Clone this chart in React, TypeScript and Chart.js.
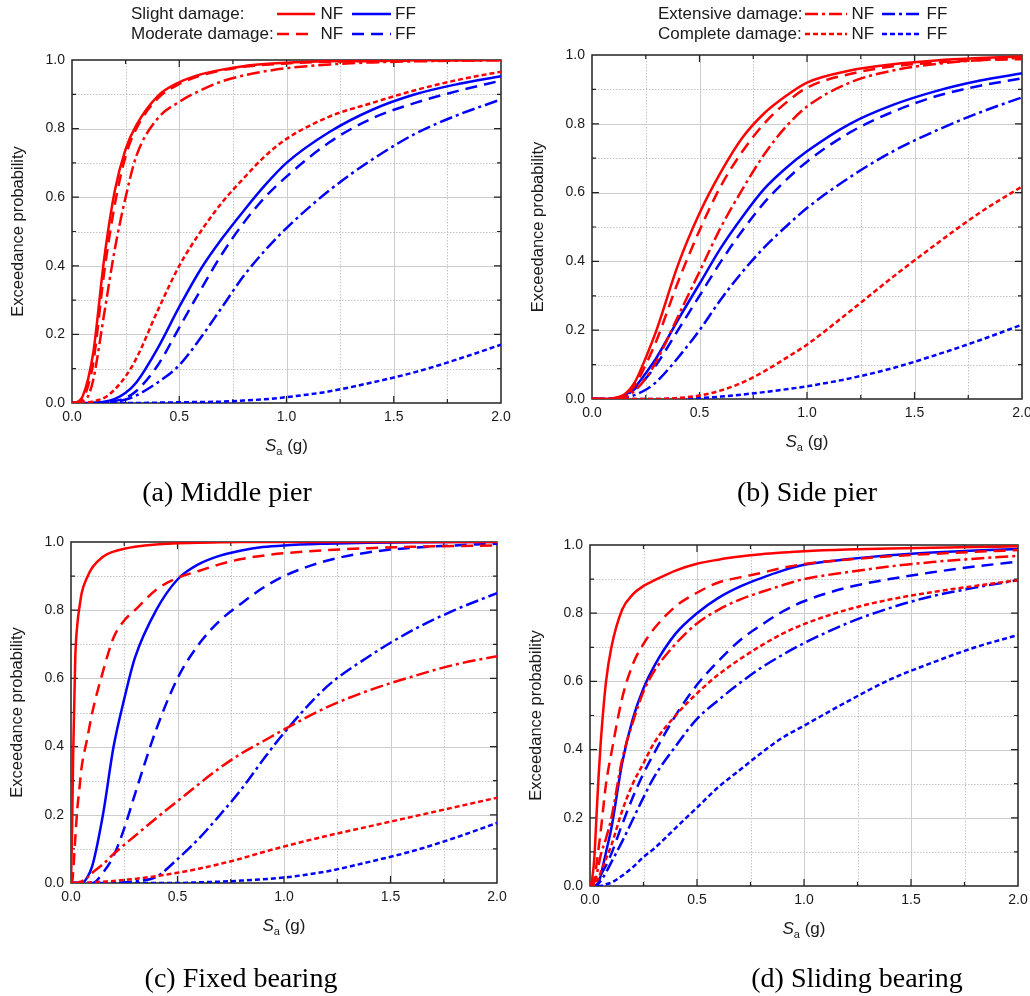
import React, { useEffect, useRef } from "react";
import { Chart, registerables } from "chart.js";

Chart.register(...registerables);

const FONT = '"Liberation Sans", Arial, Helvetica, sans-serif';
const SERIF = '"Liberation Serif", "Times New Roman", Times, serif';

// Spectral acceleration Sa (g) sample points shared by all curves
const sa = [0, 0.005, 0.01, 0.02, 0.03, 0.04, 0.05, 0.075, 0.1, 0.15, 0.2, 0.25, 0.3, 0.4, 0.5, 0.6, 0.7, 0.8, 0.9, 1.0, 1.2, 1.4, 1.6, 1.8, 2.0];

const xTicks = [0, 0.5, 1.0, 1.5, 2.0];
const yTicks = [0, 0.2, 0.4, 0.6, 0.8, 1.0];

// (a) Middle pier
const midSlightNF = [0, 0, 0, 0.002, 0.005, 0.01, 0.02, 0.07, 0.15, 0.42, 0.62, 0.74, 0.81, 0.895, 0.935, 0.958, 0.972, 0.982, 0.988, 0.992, 0.996, 0.998, 0.999, 1, 1];
const midModerateNF = [0, 0, 0, 0.001, 0.003, 0.007, 0.013, 0.05, 0.12, 0.38, 0.58, 0.72, 0.8, 0.888, 0.93, 0.955, 0.97, 0.98, 0.986, 0.99, 0.995, 0.997, 0.998, 0.999, 1];
const midExtensiveNF = [0, 0, 0, 0, 0.001, 0.002, 0.005, 0.02, 0.07, 0.26, 0.45, 0.6, 0.72, 0.83, 0.878, 0.912, 0.938, 0.955, 0.967, 0.976, 0.987, 0.993, 0.996, 0.998, 0.999];
const midCompleteNF = [0, 0, 0, 0, 0, 0, 0, 0.002, 0.005, 0.015, 0.04, 0.078, 0.13, 0.27, 0.4, 0.5, 0.585, 0.655, 0.72, 0.77, 0.835, 0.875, 0.912, 0.942, 0.966];
const midSlightFF = [0, 0, 0, 0, 0, 0, 0, 0, 0.001, 0.004, 0.012, 0.03, 0.06, 0.16, 0.28, 0.39, 0.48, 0.56, 0.635, 0.7, 0.79, 0.855, 0.9, 0.93, 0.953];
const midModerateFF = [0, 0, 0, 0, 0, 0, 0, 0, 0, 0.002, 0.006, 0.015, 0.035, 0.11, 0.22, 0.33, 0.435, 0.525, 0.6, 0.66, 0.76, 0.83, 0.875, 0.91, 0.94];
const midExtensiveFF = [0, 0, 0, 0, 0, 0, 0, 0, 0, 0.001, 0.003, 0.01, 0.022, 0.06, 0.11, 0.19, 0.28, 0.37, 0.445, 0.51, 0.62, 0.71, 0.785, 0.84, 0.885];
const midCompleteFF = [0, 0, 0, 0, 0, 0, 0, 0, 0, 0, 0, 0, 0, 0.001, 0.002, 0.003, 0.004, 0.007, 0.011, 0.017, 0.034, 0.06, 0.09, 0.128, 0.17];

// (b) Side pier
const sideSlightNF = [0, 0, 0, 0, 0, 0, 0, 0, 0.002, 0.013, 0.05, 0.12, 0.2, 0.39, 0.54, 0.66, 0.76, 0.83, 0.88, 0.92, 0.955, 0.973, 0.984, 0.991, 0.996];
const sideModerateNF = [0, 0, 0, 0, 0, 0, 0, 0, 0.001, 0.01, 0.04, 0.1, 0.17, 0.34, 0.49, 0.62, 0.72, 0.8, 0.86, 0.905, 0.945, 0.967, 0.978, 0.985, 0.988];
const sideExtensiveNF = [0, 0, 0, 0, 0, 0, 0, 0, 0, 0.005, 0.025, 0.06, 0.11, 0.24, 0.37, 0.5, 0.61, 0.71, 0.79, 0.85, 0.92, 0.955, 0.974, 0.985, 0.992];
const sideCompleteNF = [0, 0, 0, 0, 0, 0, 0, 0, 0, 0, 0, 0, 0, 0.003, 0.01, 0.025, 0.048, 0.08, 0.118, 0.158, 0.255, 0.355, 0.45, 0.54, 0.618];
const sideSlightFF = [0, 0, 0, 0, 0, 0, 0, 0, 0.002, 0.01, 0.035, 0.075, 0.12, 0.23, 0.335, 0.44, 0.53, 0.61, 0.67, 0.72, 0.8, 0.855, 0.895, 0.925, 0.947];
const sideModerateFF = [0, 0, 0, 0, 0, 0, 0, 0, 0.001, 0.008, 0.03, 0.06, 0.1, 0.2, 0.3, 0.4, 0.49, 0.57, 0.635, 0.69, 0.775, 0.835, 0.88, 0.91, 0.932];
const sideExtensiveFF = [0, 0, 0, 0, 0, 0, 0, 0, 0, 0.003, 0.012, 0.027, 0.05, 0.12, 0.2, 0.29, 0.37, 0.44, 0.5, 0.555, 0.645, 0.72, 0.78, 0.832, 0.877];
const sideCompleteFF = [0, 0, 0, 0, 0, 0, 0, 0, 0, 0, 0, 0, 0, 0.001, 0.003, 0.007, 0.013, 0.02, 0.028, 0.037, 0.06, 0.09, 0.128, 0.17, 0.216];

// (c) Fixed bearing
const fixSlightNF = [0, 0.15, 0.37, 0.66, 0.76, 0.81, 0.85, 0.895, 0.925, 0.957, 0.972, 0.98, 0.986, 0.993, 0.996, 0.998, 0.999, 1, 1, 1, 1, 1, 1, 1, 1];
const fixModerateNF = [0, 0, 0.03, 0.13, 0.22, 0.28, 0.34, 0.42, 0.5, 0.62, 0.72, 0.77, 0.8, 0.86, 0.895, 0.915, 0.935, 0.95, 0.96, 0.967, 0.976, 0.982, 0.986, 0.988, 0.99];
const fixExtensiveNF = [0, 0, 0, 0, 0.001, 0.003, 0.005, 0.015, 0.03, 0.055, 0.085, 0.112, 0.138, 0.19, 0.24, 0.29, 0.338, 0.38, 0.415, 0.45, 0.515, 0.565, 0.605, 0.64, 0.665];
const fixCompleteNF = [0, 0, 0, 0, 0, 0, 0.001, 0.001, 0.002, 0.004, 0.006, 0.009, 0.012, 0.02, 0.03, 0.042, 0.056, 0.072, 0.09, 0.107, 0.138, 0.166, 0.194, 0.222, 0.25];
const fixSlightFF = [0, 0, 0, 0, 0, 0, 0, 0.015, 0.05, 0.2, 0.4, 0.54, 0.66, 0.8, 0.89, 0.935, 0.96, 0.975, 0.985, 0.99, 0.995, 0.998, 0.999, 1, 1];
const fixModerateFF = [0, 0, 0, 0, 0, 0, 0, 0, 0, 0.03, 0.08, 0.16, 0.26, 0.45, 0.6, 0.7, 0.77, 0.82, 0.865, 0.9, 0.945, 0.97, 0.983, 0.99, 0.995];
const fixExtensiveFF = [0, 0, 0, 0, 0, 0, 0, 0, 0, 0, 0, 0.002, 0.005, 0.018, 0.07, 0.13, 0.2, 0.275, 0.36, 0.44, 0.575, 0.665, 0.74, 0.8, 0.85];
const fixCompleteFF = [0, 0, 0, 0, 0, 0, 0, 0, 0, 0, 0, 0, 0, 0, 0, 0.002, 0.004, 0.007, 0.011, 0.016, 0.034, 0.062, 0.093, 0.132, 0.176];

// (d) Sliding bearing
const slideSlightNF = [0, 0.005, 0.02, 0.08, 0.2, 0.32, 0.42, 0.6, 0.7, 0.81, 0.855, 0.88, 0.896, 0.925, 0.945, 0.957, 0.966, 0.973, 0.978, 0.982, 0.987, 0.99, 0.992, 0.994, 0.996];
const slideModerateNF = [0, 0, 0.005, 0.02, 0.06, 0.11, 0.16, 0.3, 0.39, 0.55, 0.65, 0.71, 0.755, 0.82, 0.86, 0.89, 0.905, 0.918, 0.933, 0.944, 0.957, 0.967, 0.974, 0.98, 0.985];
const slideExtensiveNF = [0, 0, 0.002, 0.01, 0.03, 0.06, 0.09, 0.14, 0.2, 0.37, 0.48, 0.57, 0.63, 0.71, 0.77, 0.81, 0.84, 0.862, 0.882, 0.9, 0.92, 0.937, 0.95, 0.96, 0.968];
const slideCompleteNF = [0, 0, 0, 0.003, 0.01, 0.025, 0.04, 0.08, 0.12, 0.22, 0.3, 0.36, 0.42, 0.5, 0.565, 0.62, 0.665, 0.705, 0.74, 0.768, 0.81, 0.84, 0.862, 0.88, 0.897];
const slideSlightFF = [0, 0, 0, 0, 0.002, 0.01, 0.03, 0.1, 0.17, 0.36, 0.49, 0.58, 0.645, 0.74, 0.8, 0.845, 0.878, 0.903, 0.925, 0.942, 0.958, 0.97, 0.978, 0.984, 0.988];
const slideModerateFF = [0, 0, 0, 0, 0, 0.01, 0.03, 0.06, 0.095, 0.18, 0.26, 0.33, 0.39, 0.5, 0.59, 0.66, 0.72, 0.765, 0.805, 0.835, 0.875, 0.9, 0.92, 0.937, 0.951];
const slideExtensiveFF = [0, 0, 0, 0, 0.003, 0.008, 0.015, 0.04, 0.07, 0.13, 0.195, 0.26, 0.32, 0.41, 0.49, 0.545, 0.595, 0.64, 0.678, 0.712, 0.77, 0.815, 0.85, 0.875, 0.897];
const slideCompleteFF = [0, 0, 0, 0, 0, 0, 0, 0.005, 0.01, 0.03, 0.055, 0.085, 0.11, 0.17, 0.23, 0.29, 0.34, 0.39, 0.435, 0.47, 0.54, 0.605, 0.655, 0.7, 0.736];

const stateNames = ["Slight damage:", "Moderate damage:", "Extensive damage:", "Complete damage:"];
const DASHES: number[][] = [[], [12, 7], [13, 4, 3, 4], [5, 3]];
const RED = "#ff0000";
const BLUE = "#0000ff";

type Series = { data: number[]; ff: boolean; state: number };

const panelA: Series[] = [
  { data: midSlightNF, ff: false, state: 0 },
  { data: midModerateNF, ff: false, state: 1 },
  { data: midExtensiveNF, ff: false, state: 2 },
  { data: midCompleteNF, ff: false, state: 3 },
  { data: midSlightFF, ff: true, state: 0 },
  { data: midModerateFF, ff: true, state: 1 },
  { data: midExtensiveFF, ff: true, state: 2 },
  { data: midCompleteFF, ff: true, state: 3 },
];
const panelB: Series[] = [
  { data: sideSlightNF, ff: false, state: 0 },
  { data: sideModerateNF, ff: false, state: 1 },
  { data: sideExtensiveNF, ff: false, state: 2 },
  { data: sideCompleteNF, ff: false, state: 3 },
  { data: sideSlightFF, ff: true, state: 0 },
  { data: sideModerateFF, ff: true, state: 1 },
  { data: sideExtensiveFF, ff: true, state: 2 },
  { data: sideCompleteFF, ff: true, state: 3 },
];
const panelC: Series[] = [
  { data: fixSlightNF, ff: false, state: 0 },
  { data: fixModerateNF, ff: false, state: 1 },
  { data: fixExtensiveNF, ff: false, state: 2 },
  { data: fixCompleteNF, ff: false, state: 3 },
  { data: fixSlightFF, ff: true, state: 0 },
  { data: fixModerateFF, ff: true, state: 1 },
  { data: fixExtensiveFF, ff: true, state: 2 },
  { data: fixCompleteFF, ff: true, state: 3 },
];
const panelD: Series[] = [
  { data: slideSlightNF, ff: false, state: 0 },
  { data: slideModerateNF, ff: false, state: 1 },
  { data: slideExtensiveNF, ff: false, state: 2 },
  { data: slideCompleteNF, ff: false, state: 3 },
  { data: slideSlightFF, ff: true, state: 0 },
  { data: slideModerateFF, ff: true, state: 1 },
  { data: slideExtensiveFF, ff: true, state: 2 },
  { data: slideCompleteFF, ff: true, state: 3 },
];

type Box = { x: number; y: number; w: number; h: number };
type Area = { l: number; r: number; t: number; b: number };
type LegendSpec = {
  states: number[];
  textX: number;
  nfLine: [number, number];
  nfTextX: number;
  ffLine: [number, number];
  ffTextX: number;
  rowY: number[];
};

function Panel(props: { box: Box; area: Area; series: Series[]; legend?: LegendSpec }) {
  const ref = useRef<HTMLCanvasElement | null>(null);
  const { box, area, series, legend } = props;

  useEffect(() => {
    const cv = ref.current;
    if (!cv) return;
    const yW = area.l - box.x;
    const padR = box.x + box.w - area.r;
    const padT = area.t - box.y;
    const xH = box.y + box.h - area.b;

    const decor = {
      id: "decor",
      beforeDatasetsDraw(chart: any) {
        const { ctx, chartArea: a, scales } = chart;
        const xs = scales.x;
        const ys = scales.y;
        ctx.save();
        ctx.lineWidth = 1;
        for (let i = 1; i < 8; i++) {
          const major = i % 2 === 0;
          const px = Math.round(xs.getPixelForValue(i * 0.25)) + 0.5;
          ctx.strokeStyle = major ? "#cdcdcd" : "#c4c4c4";
          ctx.setLineDash(major ? [] : [1.5, 1.5]);
          ctx.beginPath();
          ctx.moveTo(px, a.top);
          ctx.lineTo(px, a.bottom);
          ctx.stroke();
        }
        for (let i = 1; i < 10; i++) {
          const major = i % 2 === 0;
          const py = Math.round(ys.getPixelForValue(i * 0.1)) + 0.5;
          ctx.strokeStyle = major ? "#cdcdcd" : "#c4c4c4";
          ctx.setLineDash(major ? [] : [1.5, 1.5]);
          ctx.beginPath();
          ctx.moveTo(a.left, py);
          ctx.lineTo(a.right, py);
          ctx.stroke();
        }
        ctx.setLineDash([]);
        ctx.strokeStyle = "#222";
        ctx.lineWidth = 1.2;
        for (let i = 1; i < 8; i++) {
          const len = i % 2 === 0 ? 7 : 4;
          const px = xs.getPixelForValue(i * 0.25);
          ctx.beginPath();
          ctx.moveTo(px, a.bottom);
          ctx.lineTo(px, a.bottom - len);
          ctx.moveTo(px, a.top);
          ctx.lineTo(px, a.top + len);
          ctx.stroke();
        }
        for (let i = 1; i < 10; i++) {
          const len = i % 2 === 0 ? 7 : 4;
          const py = ys.getPixelForValue(i * 0.1);
          ctx.beginPath();
          ctx.moveTo(a.left, py);
          ctx.lineTo(a.left + len, py);
          ctx.moveTo(a.right, py);
          ctx.lineTo(a.right - len, py);
          ctx.stroke();
        }
        ctx.lineWidth = 1.5;
        ctx.strokeRect(a.left, a.top, a.right - a.left, a.bottom - a.top);
        ctx.restore();
      },
      afterDraw(chart: any) {
        const { ctx, chartArea: a } = chart;
        ctx.save();
        ctx.fillStyle = "#1a1a1a";
        // x-axis title: italic S with subscript a, then (g)
        const cx = (a.left + a.right) / 2;
        const base = a.bottom + 48;
        ctx.textBaseline = "alphabetic";
        ctx.textAlign = "left";
        ctx.font = `italic 17px ${FONT}`;
        const wS = ctx.measureText("S").width;
        ctx.font = `11px ${FONT}`;
        const wA = ctx.measureText("a").width;
        ctx.font = `17px ${FONT}`;
        const wG = ctx.measureText(" (g)").width;
        let x0 = cx - (wS + wA + wG) / 2;
        ctx.font = `italic 17px ${FONT}`;
        ctx.fillText("S", x0, base);
        x0 += wS;
        ctx.font = `11px ${FONT}`;
        ctx.fillText("a", x0, base + 4);
        x0 += wA;
        ctx.font = `17px ${FONT}`;
        ctx.fillText(" (g)", x0, base);
        // y-axis title
        ctx.save();
        ctx.translate(a.left - 53.5, (a.top + a.bottom) / 2);
        ctx.rotate(-Math.PI / 2);
        ctx.textAlign = "center";
        ctx.textBaseline = "middle";
        ctx.font = `16.5px ${FONT}`;
        ctx.fillText("Exceedance probability", 0, 0);
        ctx.restore();

        if (legend) {
          const ox = box.x;
          const oy = box.y;
          ctx.font = `17px ${FONT}`;
          ctx.textBaseline = "middle";
          ctx.textAlign = "left";
          legend.states.forEach((st, k) => {
            const y = legend.rowY[k] - oy;
            ctx.fillStyle = "#1a1a1a";
            ctx.fillText(stateNames[st], legend.textX - ox, y);
            ctx.fillText("NF", legend.nfTextX - ox, y);
            ctx.fillText("FF", legend.ffTextX - ox, y);
            ctx.lineWidth = 2.5;
            ctx.setLineDash(DASHES[st]);
            ctx.strokeStyle = RED;
            ctx.beginPath();
            ctx.moveTo(legend.nfLine[0] - ox, y);
            ctx.lineTo(legend.nfLine[1] - ox, y);
            ctx.stroke();
            ctx.strokeStyle = BLUE;
            ctx.beginPath();
            ctx.moveTo(legend.ffLine[0] - ox, y);
            ctx.lineTo(legend.ffLine[1] - ox, y);
            ctx.stroke();
            ctx.setLineDash([]);
          });
        }
        ctx.restore();
      },
    };

    const chart = new Chart(cv, {
      type: "line",
      data: {
        datasets: series.map((s) => ({
          label: (s.ff ? "FF " : "NF ") + stateNames[s.state],
          data: sa.map((x, i) => ({ x, y: s.data[i] })),
          borderColor: s.ff ? BLUE : RED,
          backgroundColor: s.ff ? BLUE : RED,
          borderDash: DASHES[s.state],
          borderWidth: 2.5,
          pointRadius: 0,
          fill: false,
          cubicInterpolationMode: "monotone" as const,
        })),
      },
      options: {
        animation: false,
        responsive: false,
        devicePixelRatio: 1,
        layout: { padding: { left: 0, right: padR, top: padT, bottom: 0 } },
        plugins: { legend: { display: false }, tooltip: { enabled: false } },
        scales: {
          x: {
            type: "linear",
            min: 0,
            max: 2,
            grid: { display: false, drawTicks: false },
            border: { display: false },
            afterBuildTicks: (s: any) => {
              s.ticks = xTicks.map((v) => ({ value: v }));
            },
            ticks: {
              padding: 6,
              color: "#1a1a1a",
              font: { size: 14, family: FONT },
              maxRotation: 0,
              autoSkip: false,
              callback: (v: any) => Number(v).toFixed(1),
            },
            afterFit: (s: any) => {
              s.height = xH;
              s.paddingLeft = 0;
              s.paddingRight = 0;
            },
          },
          y: {
            type: "linear",
            min: 0,
            max: 1,
            grid: { display: false, drawTicks: false },
            border: { display: false },
            afterBuildTicks: (s: any) => {
              s.ticks = yTicks.map((v) => ({ value: v }));
            },
            ticks: {
              padding: 7,
              color: "#1a1a1a",
              font: { size: 14, family: FONT },
              autoSkip: false,
              callback: (v: any) => Number(v).toFixed(1),
            },
            afterFit: (s: any) => {
              s.width = yW;
              s.paddingTop = 0;
              s.paddingBottom = 0;
            },
          },
        },
      },
      plugins: [decor],
    } as any);
    return () => chart.destroy();
  }, []);

  return (
    <canvas
      ref={ref}
      width={box.w}
      height={box.h}
      style={{ position: "absolute", left: box.x, top: box.y, width: box.w, height: box.h }}
    />
  );
}

const legendLeft: LegendSpec = {
  states: [0, 1],
  textX: 131,
  nfLine: [277, 315],
  nfTextX: 320.5,
  ffLine: [352, 391],
  ffTextX: 395,
  rowY: [14, 34],
};
const legendRight: LegendSpec = {
  states: [2, 3],
  textX: 658,
  nfLine: [805, 847],
  nfTextX: 851.5,
  ffLine: [882, 922],
  ffTextX: 926.5,
  rowY: [14, 34],
};

const captions = [
  { text: "(a) Middle pier", cx: 227, base: 501 },
  { text: "(b) Side pier", cx: 807, base: 501 },
  { text: "(c) Fixed bearing", cx: 241, base: 987 },
  { text: "(d) Sliding bearing", cx: 857, base: 987 },
];

export default function App() {
  return (
    <div
      style={{
        position: "absolute",
        left: 0,
        top: 0,
        width: 1030,
        height: 996,
        overflow: "hidden",
        background: "#ffffff",
      }}
    >
      <Panel box={{ x: 0, y: 0, w: 515, h: 470 }} area={{ l: 72, r: 501, t: 60, b: 403 }} series={panelA} legend={legendLeft} />
      <Panel box={{ x: 520, y: 0, w: 520, h: 470 }} area={{ l: 592, r: 1022, t: 55, b: 399 }} series={panelB} legend={legendRight} />
      <Panel box={{ x: 0, y: 490, w: 515, h: 480 }} area={{ l: 71, r: 497, t: 542, b: 883 }} series={panelC} />
      <Panel box={{ x: 520, y: 490, w: 520, h: 480 }} area={{ l: 590, r: 1018, t: 545, b: 886 }} series={panelD} />
      {captions.map((c) => (
        <div
          key={c.text}
          style={{
            position: "absolute",
            left: c.cx,
            top: c.base - 23.4,
            transform: "translateX(-50%)",
            font: `28px ${SERIF}`,
            lineHeight: "28px",
            whiteSpace: "nowrap",
            color: "#000",
          }}
        >
          {c.text}
        </div>
      ))}
    </div>
  );
}
